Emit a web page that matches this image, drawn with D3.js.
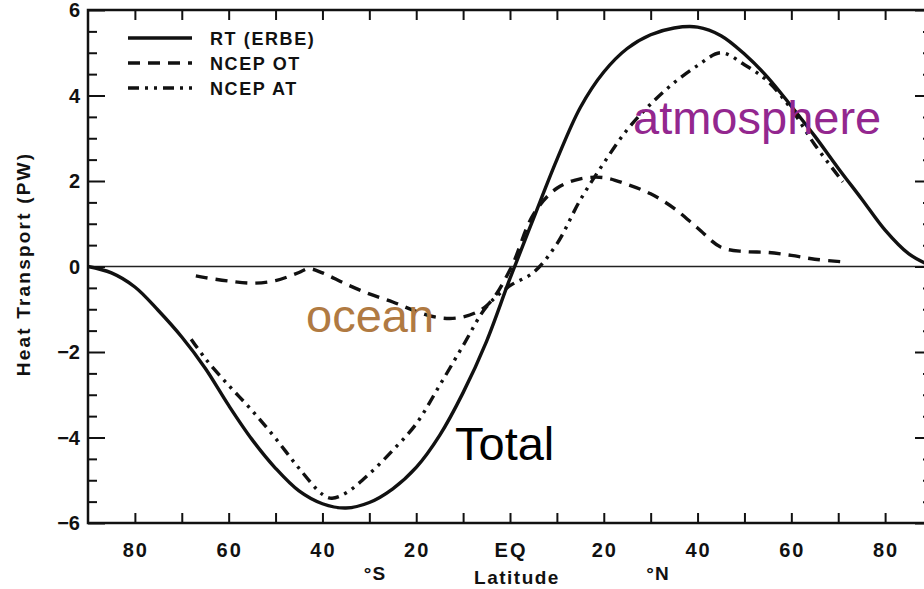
<!DOCTYPE html>
<html>
<head>
<meta charset="utf-8">
<script src="https://cdn.jsdelivr.net/npm/d3@7"></script>
<style>
  body { margin: 0; background: #fff; }
  svg { display: block; }
</style>
</head>
<body>
<svg id="chart" width="924" height="589"></svg>
<script>
// RT (ERBE) total transport
const totalLat = [-90, -85, -80, -75, -70, -65, -60, -55, -50, -45, -40, -35, -30, -25, -20, -15, -10, -5, 0, 5, 10, 15, 20, 25, 30, 35, 40, 45, 50, 55, 60, 65, 70, 75, 80, 85, 90];
const totalPW = [0, -0.15, -0.48, -1.03, -1.65, -2.38, -3.25, -4.05, -4.72, -5.25, -5.55, -5.65, -5.52, -5.2, -4.7, -3.95, -2.95, -1.75, -0.28, 1.12, 2.5, 3.72, 4.55, 5.1, 5.42, 5.58, 5.6, 5.4, 4.97, 4.42, 3.75, 3.05, 2.3, 1.58, 0.85, 0.3, 0];

// NCEP OT ocean transport
const oceanLat = [-67, -65, -60, -55, -50, -45, -43, -40, -35, -30, -25, -20, -15, -10, -5, 0, 5, 10, 15, 20, 25, 30, 35, 40, 45, 50, 55, 60, 65, 71];
const oceanPW = [-0.22, -0.26, -0.34, -0.39, -0.33, -0.14, -0.05, -0.15, -0.41, -0.64, -0.83, -1.05, -1.2, -1.18, -0.92, -0.08, 1.22, 1.83, 2.05, 2.08, 1.92, 1.7, 1.36, 0.9, 0.45, 0.35, 0.33, 0.26, 0.17, 0.11];

// NCEP AT atmosphere transport
const atmosLat = [-68, -65, -60, -55, -50, -45, -40, -38, -35, -30, -25, -20, -15, -10, -5, 0, 5, 10, 15, 20, 25, 30, 35, 40, 45, 50, 55, 60, 65, 71];
const atmosPW = [-1.7, -2.15, -2.78, -3.37, -4.02, -4.72, -5.33, -5.42, -5.3, -4.85, -4.3, -3.68, -2.78, -1.85, -0.94, -0.45, -0.14, 0.53, 1.56, 2.42, 3.2, 3.8, 4.3, 4.7, 5.0, 4.72, 4.33, 3.68, 2.85, 1.98];

const xTickLabels = ["80", "60", "40", "20", "EQ", "20", "40", "60", "80"];
const yTickValues = [-6, -4, -2, 0, 2, 4, 6];
const legendNames = ["RT (ERBE)", "NCEP OT", "NCEP AT"];

const svg = d3.select("#chart"),
  margin = { top: 10, right: -8, bottom: 66, left: 88 },
  width = 924 - margin.left - margin.right,
  height = 589 - margin.top - margin.bottom;

const xScale = d3.scaleLinear().domain([-90, 90]).range([margin.left, margin.left + width]);
const yScale = d3.scaleLinear().domain([-6, 6]).range([margin.top + height, margin.top]);

const ink = "#111";
const dashes = { solid: null, dash: "12,8", dashdot: "11,6,3,6,3,6" };

// zero line
svg.append("line")
  .attr("x1", xScale(-90)).attr("x2", xScale(90))
  .attr("y1", yScale(0)).attr("y2", yScale(0))
  .attr("stroke", "#222").attr("stroke-width", 1.6);

// axes (ticks inside the frame)
const xTicks = d3.range(-80, 81, 10);
const xAxisBottom = d3.axisBottom(xScale).tickValues(xTicks).tickSize(-10).tickFormat("").tickSizeOuter(0);
const xAxisTop = d3.axisTop(xScale).tickValues(xTicks).tickSize(-10).tickFormat("").tickSizeOuter(0);
const yMinor = d3.range(-5.5, 6, 0.5).filter((v) => v % 2 !== 0);
const yAxisMajor = d3.axisLeft(yScale).tickValues(yTickValues).tickSize(-17).tickFormat("").tickSizeOuter(0);
const yAxisMinor = d3.axisLeft(yScale).tickValues(yMinor).tickSize(-9).tickFormat("").tickSizeOuter(0);
const yAxisMajorR = d3.axisRight(yScale).tickValues(yTickValues).tickSize(-17).tickFormat("").tickSizeOuter(0);
const yAxisMinorR = d3.axisRight(yScale).tickValues(yMinor).tickSize(-9).tickFormat("").tickSizeOuter(0);

svg.append("g").attr("transform", `translate(0,${yScale(-6)})`).call(xAxisBottom);
svg.append("g").attr("transform", `translate(0,${yScale(6)})`).call(xAxisTop);
svg.append("g").attr("transform", `translate(${xScale(-90)},0)`).call(yAxisMajor);
svg.append("g").attr("transform", `translate(${xScale(-90)},0)`).call(yAxisMinor);
svg.append("g").attr("transform", `translate(${xScale(90)},0)`).call(yAxisMajorR);
svg.append("g").attr("transform", `translate(${xScale(90)},0)`).call(yAxisMinorR);
svg.selectAll(".domain").remove();
svg.selectAll(".tick line").attr("stroke", ink).attr("stroke-width", 2);

// frame
svg.append("rect")
  .attr("x", xScale(-90)).attr("y", yScale(6))
  .attr("width", xScale(90) - xScale(-90))
  .attr("height", yScale(-6) - yScale(6))
  .attr("fill", "none").attr("stroke", ink).attr("stroke-width", 2.5);

// tick labels
const labelFont = "'Liberation Sans', Arial, sans-serif";
svg.selectAll(".xlab")
  .data(xTickLabels)
  .enter()
  .append("text")
  .attr("class", "xlab")
  .attr("x", (d, i) => xScale(-80 + i * 20) + 1)
  .attr("y", 557)
  .attr("text-anchor", "middle")
  .style("font-family", labelFont).style("font-weight", "bold")
  .style("font-size", "20px").style("letter-spacing", "2px")
  .attr("fill", ink)
  .text((d) => d);

svg.selectAll(".ylab")
  .data(yTickValues)
  .enter()
  .append("text")
  .attr("class", "ylab")
  .attr("x", 80)
  .attr("y", (d) => yScale(d) + 7)
  .attr("text-anchor", "end")
  .style("font-family", labelFont).style("font-weight", "bold")
  .style("font-size", "20px")
  .attr("fill", ink)
  .text((d) => (d < 0 ? "\u2212" + Math.abs(d) : d));

const axisText = (x, y, str, size, spacing) => svg.append("text")
  .attr("x", x).attr("y", y)
  .attr("text-anchor", "middle")
  .style("font-family", labelFont).style("font-weight", "bold")
  .style("font-size", size).style("letter-spacing", spacing)
  .attr("fill", ink)
  .text(str);

axisText(375, 580, "°S", "19px", "1px");
axisText(517, 584, "Latitude", "19px", "1.5px");
axisText(658, 580, "°N", "19px", "1px");
axisText(0, 0, "Heat Transport (PW)", "19px", "2.2px")
  .attr("transform", "translate(30,264) rotate(-90)");

// curves
const line = d3.line()
  .x((d) => xScale(d[0]))
  .y((d) => yScale(d[1]))
  .curve(d3.curveCatmullRom.alpha(0.5));

const series = [
  { pts: d3.zip(totalLat, totalPW), dash: dashes.solid },
  { pts: d3.zip(oceanLat, oceanPW), dash: dashes.dash },
  { pts: d3.zip(atmosLat, atmosPW), dash: dashes.dashdot },
];

svg.selectAll(".curve")
  .data(series)
  .enter()
  .append("path")
  .attr("class", "curve")
  .attr("d", (d) => line(d.pts))
  .attr("fill", "none")
  .attr("stroke", ink)
  .attr("stroke-width", 3.4)
  .attr("stroke-dasharray", (d) => d.dash);

// legend
const legend = svg.selectAll(".legend")
  .data(legendNames)
  .enter()
  .append("g")
  .attr("class", "legend")
  .attr("transform", (d, i) => `translate(128,${38 + i * 25})`);

legend.append("line")
  .attr("x1", 0).attr("x2", 64)
  .attr("stroke", ink).attr("stroke-width", 3.4)
  .attr("stroke-dasharray", (d, i) => series[i].dash);

legend.append("text")
  .attr("x", 82).attr("y", 7)
  .style("font-family", labelFont).style("font-weight", "bold")
  .style("font-size", "18px").style("letter-spacing", "1.6px")
  .attr("fill", ink)
  .text((d) => d);

// annotations
const note = (x, y, str, col) => svg.append("text")
  .attr("x", x).attr("y", y)
  .style("font-family", "'Liberation Sans', Helvetica, Arial, sans-serif")
  .style("font-size", "47px")
  .attr("fill", col)
  .text(str);

note(633, 134, "atmosphere", "#93278f");
note(306, 332, "ocean", "#b07a42");
note(455, 460, "Total", "#000");
</script>
</body>
</html>
